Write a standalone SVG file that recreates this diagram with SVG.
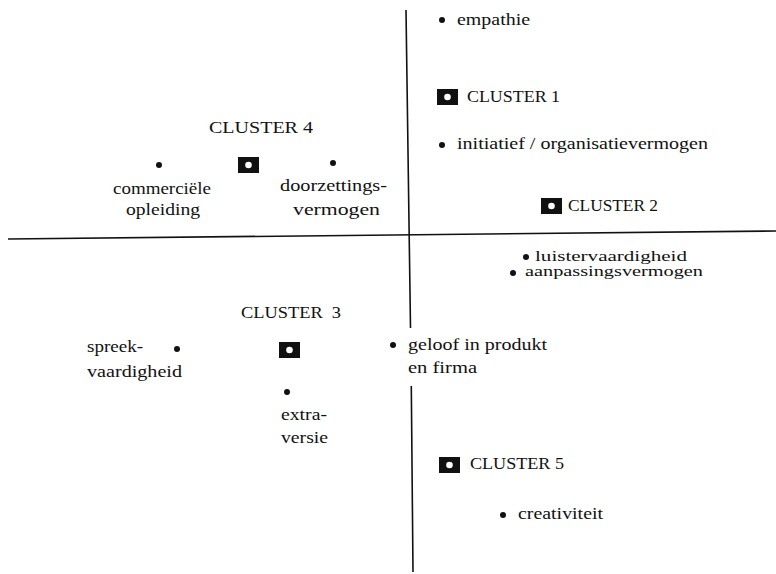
<svg xmlns="http://www.w3.org/2000/svg" xmlns:xlink="http://www.w3.org/1999/xlink" width="776" height="574" viewBox="0 0 776 574">
<style>
text{font-family:"Liberation Serif","Times New Roman",serif;font-size:16px;fill:#111}
.sm{font-size:14px}
.ax{stroke:#111;stroke-width:1.6;fill:none}
.dot{fill:#111}
</style>
<defs>
<g id="sq"><rect x="0" y="0" width="21" height="16" fill="#111"/><circle cx="10.5" cy="8" r="3.3" fill="#fff"/></g>
</defs>
<rect width="776" height="574" fill="#fff"/>
<g id="connectors">
<path class="ax" d="M406,10 L410.5,328 M411.3,386 L413,572"/>
<path class="ax" d="M8,239 L776,231"/>
</g>
<g id="empathie"><circle class="dot" cx="442" cy="20" r="3"/><text x="457" y="25" textLength="73" lengthAdjust="spacingAndGlyphs">empathie</text></g>
<g id="cluster1"><use xlink:href="#sq" x="437" y="89"/><text x="467" y="102" textLength="93" lengthAdjust="spacingAndGlyphs">CLUSTER 1</text></g>
<g id="initiatief"><circle class="dot" cx="442" cy="145" r="3"/><text x="457" y="149" textLength="251" lengthAdjust="spacingAndGlyphs">initiatief / organisatievermogen</text></g>
<g id="cluster2"><use xlink:href="#sq" x="541" y="198"/><text x="568" y="211" textLength="90" lengthAdjust="spacingAndGlyphs">CLUSTER 2</text></g>
<g id="luister"><circle class="dot" cx="526" cy="257" r="3"/><text class="sm" x="535" y="261" textLength="152" lengthAdjust="spacingAndGlyphs">luistervaardigheid</text></g>
<g id="aanpassing"><circle class="dot" cx="513" cy="273" r="3"/><text class="sm" x="525" y="276" textLength="178" lengthAdjust="spacingAndGlyphs">aanpassingsvermogen</text></g>
<g id="cluster4"><text x="209" y="133" textLength="104" lengthAdjust="spacingAndGlyphs">CLUSTER 4</text><use xlink:href="#sq" x="238" y="157"/></g>
<g id="commercieel"><circle class="dot" cx="159" cy="165" r="3"/><text x="113" y="194" textLength="98" lengthAdjust="spacingAndGlyphs">commerciële</text><text x="126" y="215" textLength="74" lengthAdjust="spacingAndGlyphs">opleiding</text></g>
<g id="doorzetting"><circle class="dot" cx="333" cy="163" r="3"/><text x="280" y="191" textLength="107" lengthAdjust="spacingAndGlyphs">doorzettings-</text><text x="293" y="215" textLength="87" lengthAdjust="spacingAndGlyphs">vermogen</text></g>
<g id="cluster3"><text x="241" y="318" textLength="100" lengthAdjust="spacingAndGlyphs" xml:space="preserve">CLUSTER  3</text><use xlink:href="#sq" x="279" y="342"/></g>
<g id="spreek"><circle class="dot" cx="177" cy="349" r="3"/><text x="87" y="352" textLength="56" lengthAdjust="spacingAndGlyphs">spreek-</text><text x="87" y="377" textLength="95" lengthAdjust="spacingAndGlyphs">vaardigheid</text></g>
<g id="extraversie"><circle class="dot" cx="287" cy="392" r="3"/><text x="281" y="420" textLength="46" lengthAdjust="spacingAndGlyphs">extra-</text><text x="281" y="443" textLength="47" lengthAdjust="spacingAndGlyphs">versie</text></g>
<g id="geloof"><circle class="dot" cx="393" cy="345" r="3"/><text x="408" y="350" textLength="139" lengthAdjust="spacingAndGlyphs">geloof in produkt</text><text x="408" y="373" textLength="69" lengthAdjust="spacingAndGlyphs">en firma</text></g>
<g id="cluster5"><use xlink:href="#sq" x="439" y="457"/><text x="470" y="469" textLength="94" lengthAdjust="spacingAndGlyphs">CLUSTER 5</text></g>
<g id="creativiteit"><circle class="dot" cx="503" cy="515" r="3"/><text x="518" y="519" textLength="85" lengthAdjust="spacingAndGlyphs">creativiteit</text></g>
</svg>
